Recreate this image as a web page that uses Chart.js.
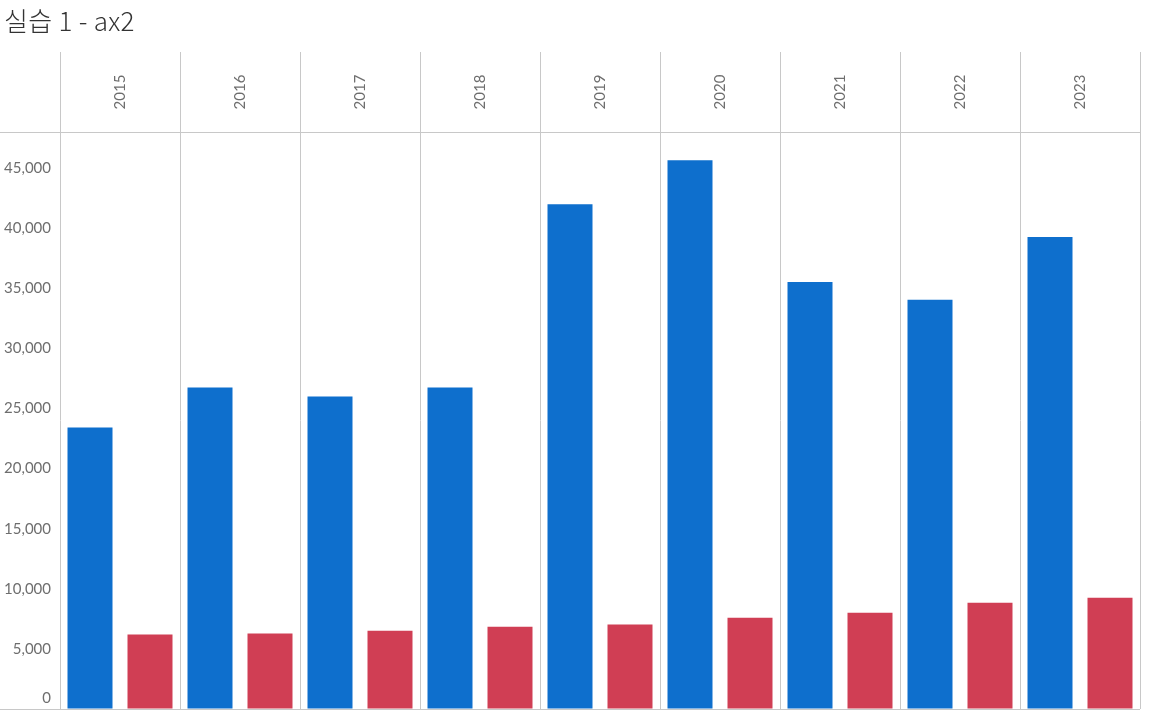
<!DOCTYPE html>
<html>
<head>
<meta charset="utf-8">
<script src="https://cdn.jsdelivr.net/npm/chart.js@4/dist/chart.umd.min.js"></script>
<style>
    html, body { margin: 0; padding: 0; background: #fff; }
    #wrap { position: relative; width: 1158px; height: 719px; }
    #title {
        position: absolute; left: 4px; top: 1px;
        font-family: 'Noto Sans CJK KR', 'Noto Sans', sans-serif;
        font-weight: 300; font-size: 26px; color: #333;
        letter-spacing: 0.3px;
    }
    canvas { position: absolute; left: 0; top: 0; }
</style>
</head>
<body>
<div id="wrap">
    <canvas id="chart" width="1158" height="719"></canvas>
    <div id="title">실습 1 - ax2</div>
</div>
<script>
// ====== データ ======
const years = ['2015', '2016', '2017', '2018', '2019', '2020', '2021', '2022', '2023'];
const blueValues = [23420, 26740, 26000, 26740, 42000, 45650, 35530, 34040, 39260];
const redValues = [6190, 6280, 6510, 6840, 7030, 7590, 8000, 8830, 9250];
const yTicks = [0, 5000, 10000, 15000, 20000, 25000, 30000, 35000, 40000, 45000];

const LINE = '#c8c8c8';
const LABEL = '#6e6e6e';
const HEADER_TOP = 52;

// ヘッダー（年）とY軸ラベル、枠線を描く
const framePlugin = {
    id: 'frame',
    afterDraw(chart) {
        const ctx = chart.ctx;
        const area = chart.chartArea;
        const x = chart.scales.x;
        const y = chart.scales.y;
        const step = x.getPixelForValue(1) - x.getPixelForValue(0);

        ctx.save();
        ctx.strokeStyle = LINE;
        ctx.lineWidth = 1;

        // ヘッダーの縦線
        for (let i = 0; i <= years.length; i++) {
            const px = Math.round(x.getPixelForValue(i) - step / 2) + 0.5;
            ctx.beginPath();
            ctx.moveTo(px, HEADER_TOP);
            ctx.lineTo(px, area.top);
            ctx.stroke();
        }

        // 上と下の横線
        ctx.beginPath();
        ctx.moveTo(0, Math.round(area.top) + 0.5);
        ctx.lineTo(area.right, Math.round(area.top) + 0.5);
        ctx.moveTo(0, Math.round(area.bottom) + 0.5);
        ctx.lineTo(area.right, Math.round(area.bottom) + 0.5);
        ctx.stroke();

        // 年ラベル（縦書き）
        ctx.fillStyle = LABEL;
        ctx.font = '15px Lato, "Noto Sans", sans-serif';
        ctx.textAlign = 'center';
        ctx.textBaseline = 'middle';
        years.forEach((yr, i) => {
            const px = x.getPixelForValue(i);
            ctx.save();
            ctx.translate(px, (HEADER_TOP + area.top) / 2);
            ctx.rotate(-Math.PI / 2);
            ctx.fillText(yr, 0, 0);
            ctx.restore();
        });

        // Y軸ラベル
        ctx.textAlign = 'right';
        ctx.font = '15px Lato, "Noto Sans", sans-serif';
        yTicks.forEach(v => {
            let py = y.getPixelForValue(v);
            if (py > area.bottom - 11) py = area.bottom - 11;
            ctx.fillText(v.toLocaleString('en-US'), area.left - 9, py);
        });
        ctx.restore();
    }
};

const ctx = document.getElementById('chart').getContext('2d');
new Chart(ctx, {
    type: 'bar',
    data: {
        labels: years,
        datasets: [
            {
                label: 'A',
                data: blueValues,
                backgroundColor: '#0e6fcd',
                barPercentage: 0.75,
                categoryPercentage: 1.0
            },
            {
                label: 'B',
                data: redValues,
                backgroundColor: '#d03e54',
                barPercentage: 0.75,
                categoryPercentage: 1.0
            }
        ]
    },
    options: {
        responsive: false,
        animation: false,
        layout: { padding: { left: 60, right: 18, top: 132, bottom: 10 } },
        plugins: {
            legend: { display: false },
            tooltip: { enabled: false }
        },
        scales: {
            x: {
                offset: true,
                ticks: { display: false },
                grid: { offset: true, color: LINE, drawTicks: false },
                border: { display: false },
                afterFit(s) { s.height = 0; }
            },
            y: {
                min: 0,
                max: 48000,
                ticks: { display: false, stepSize: 5000 },
                grid: {
                    drawTicks: false,
                    color: c => (c.tick && c.tick.value > 0 && c.tick.value % 5000 === 0) ? '#f0f0f0' : 'rgba(0,0,0,0)'
                },
                border: { display: false },
                afterFit(s) { s.width = 0; }
            }
        }
    },
    plugins: [framePlugin]
});
</script>
</body>
</html>
